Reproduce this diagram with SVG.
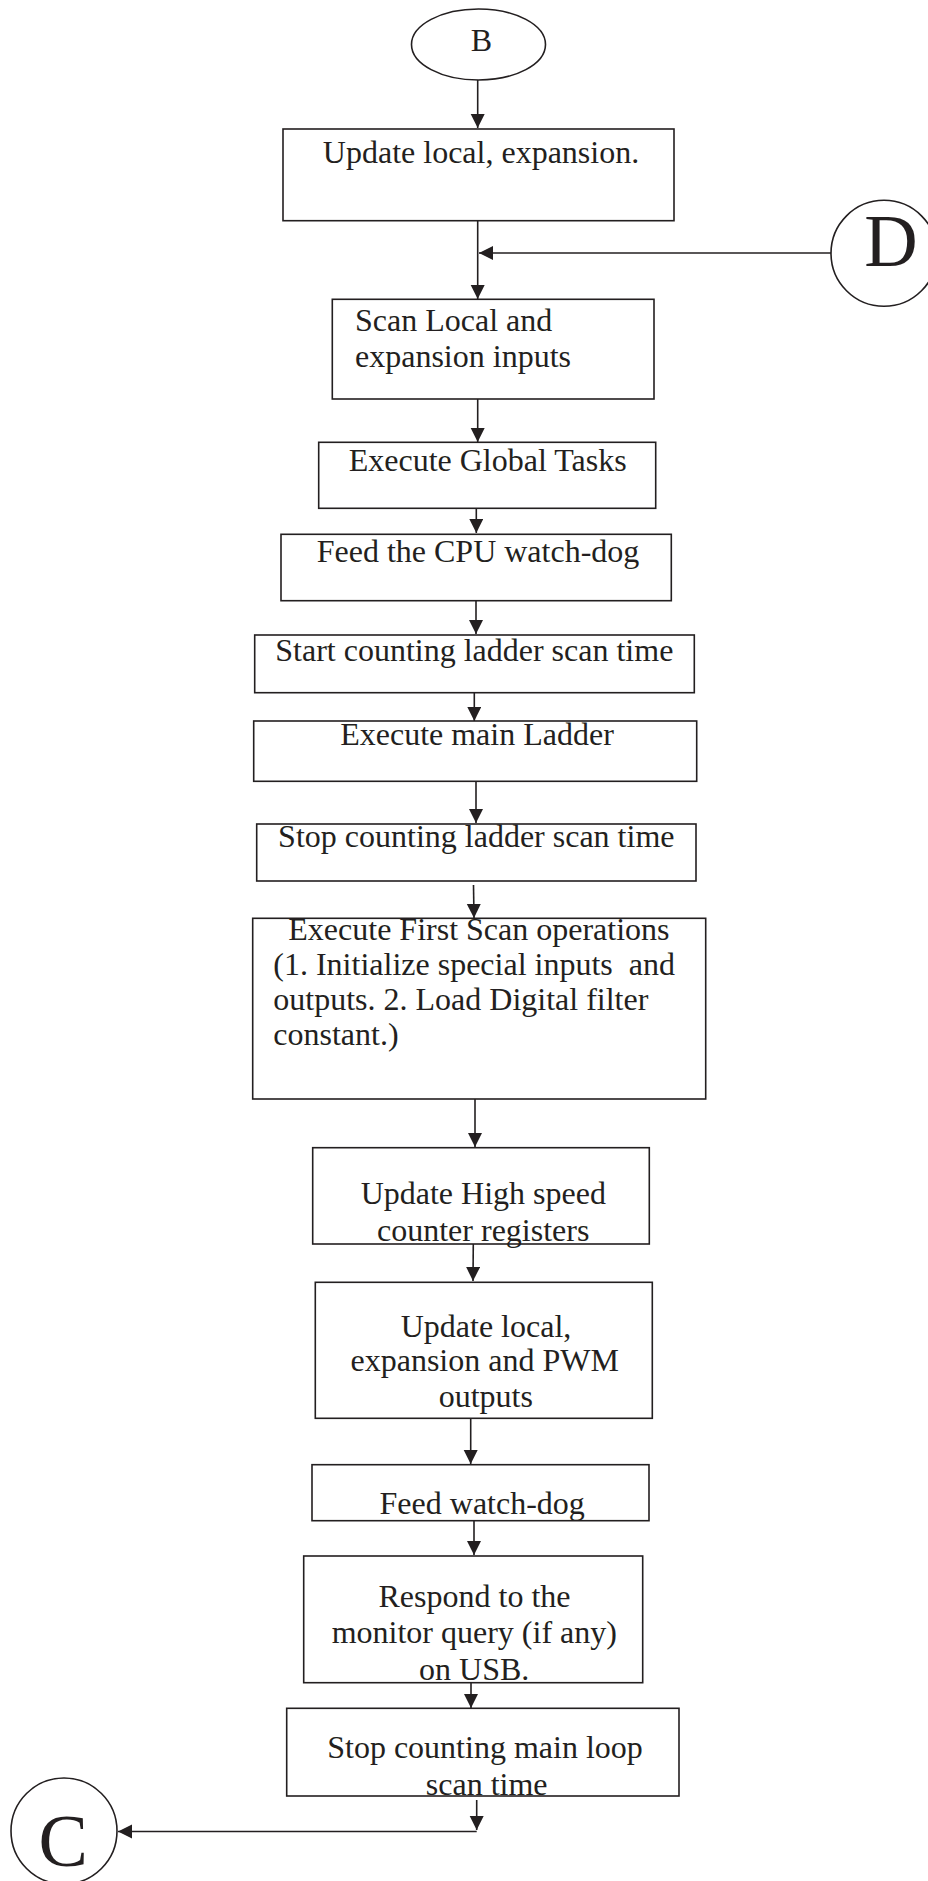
<svg xmlns="http://www.w3.org/2000/svg" width="928" height="1881" viewBox="0 0 928 1881">
<style>
.box{fill:#fff;stroke:#231f20;stroke-width:1.6}
.t{font-family:"Liberation Serif","Times New Roman",serif;font-size:32px;fill:#231f20}
.m{text-anchor:middle}
.big{font-family:"Liberation Serif","Times New Roman",serif;font-size:74px;fill:#231f20;text-anchor:middle}
.c{fill:none;stroke:#231f20;stroke-width:1.6}
</style>
<defs>
<marker id="ah" markerUnits="userSpaceOnUse" markerWidth="16" markerHeight="16" refX="14" refY="7" orient="auto">
<path d="M0,0 L14,7 L0,14 z" fill="#231f20"/>
</marker>
</defs>
<rect width="928" height="1881" fill="#fff"/>
<g id="connectors">
<path class="c" d="M477.7,80 L477.7,128" marker-end="url(#ah)"/>
<path class="c" d="M477.7,221 L477.7,299" marker-end="url(#ah)"/>
<path class="c" d="M831,253 L479,253" marker-end="url(#ah)"/>
<path class="c" d="M477.7,399 L477.7,442" marker-end="url(#ah)"/>
<path class="c" d="M476.3,507 L476.3,533" marker-end="url(#ah)"/>
<path class="c" d="M476,601 L476,634" marker-end="url(#ah)"/>
<path class="c" d="M474.3,693 L474.3,721" marker-end="url(#ah)"/>
<path class="c" d="M476,781 L476,823" marker-end="url(#ah)"/>
<path class="c" d="M473.5,885 L474,918" marker-end="url(#ah)"/>
<path class="c" d="M475,1099 L475,1147" marker-end="url(#ah)"/>
<path class="c" d="M473.3,1242 L473,1281" marker-end="url(#ah)"/>
<path class="c" d="M470.7,1415 L470.7,1464" marker-end="url(#ah)"/>
<path class="c" d="M474,1521 L474,1555" marker-end="url(#ah)"/>
<path class="c" d="M471,1683 L471,1708" marker-end="url(#ah)"/>
<path class="c" d="M476.7,1800 L476.7,1830" marker-end="url(#ah)"/>
<path class="c" d="M476.7,1831.5 L118,1831.5" marker-end="url(#ah)"/>
</g>
<g id="nodeB">
<ellipse cx="478.5" cy="44.5" rx="67" ry="35.5" class="box"/>
<text x="481.5" y="51" class="t m">B</text>
</g>
<g id="nodeD">
<circle cx="884" cy="253.3" r="53" class="box"/>
<text x="891" y="266" class="big">D</text>
</g>
<g id="n1">
<rect x="283" y="129" width="391" height="91.7" class="box"/>
<text x="481" y="162.7" class="t m">Update local, expansion.</text>
</g>
<g id="n2">
<rect x="332.3" y="299.3" width="321.7" height="99.7" class="box"/>
<text x="355" y="330.7" class="t">Scan Local and</text>
<text x="355" y="367.3" class="t">expansion inputs</text>
</g>
<g id="n3">
<rect x="318.7" y="442.3" width="337" height="66" class="box"/>
<text x="487.7" y="470.7" class="t m">Execute Global Tasks</text>
</g>
<g id="n4">
<rect x="281" y="534.3" width="390.3" height="66.4" class="box"/>
<text x="478" y="561.7" class="t m">Feed the CPU watch-dog</text>
</g>
<g id="n5">
<rect x="254.7" y="635" width="439.6" height="57.7" class="box"/>
<text x="474.3" y="661" class="t m">Start counting ladder scan time</text>
</g>
<g id="n6">
<rect x="253.7" y="721" width="443" height="60.3" class="box"/>
<text x="477" y="745" class="t m">Execute main Ladder</text>
</g>
<g id="n7">
<rect x="256.7" y="824" width="439.3" height="57" class="box"/>
<text x="476.3" y="846.7" class="t m">Stop counting ladder scan time</text>
</g>
<g id="n8">
<rect x="252.7" y="918.3" width="453" height="180.7" class="box"/>
<text x="288.3" y="940" class="t">Execute First Scan operations</text>
<text x="273.3" y="975" class="t" xml:space="preserve">(1. Initialize special inputs  and</text>
<text x="273.3" y="1010" class="t">outputs. 2. Load Digital filter</text>
<text x="273.3" y="1045" class="t">constant.)</text>
</g>
<g id="n9">
<rect x="312.7" y="1147.7" width="336.6" height="96.3" class="box"/>
<text x="483.3" y="1204" class="t m">Update High speed</text>
<text x="483.2" y="1241" class="t m">counter registers</text>
</g>
<g id="n10">
<rect x="315.3" y="1282.3" width="337" height="136" class="box"/>
<text x="486" y="1336.7" class="t m">Update local,</text>
<text x="484.7" y="1371" class="t m">expansion and PWM</text>
<text x="485.8" y="1406.7" class="t m">outputs</text>
</g>
<g id="n11">
<rect x="312" y="1464.7" width="337" height="56" class="box"/>
<text x="482.2" y="1514.3" class="t m">Feed watch-dog</text>
</g>
<g id="n12">
<rect x="303.7" y="1556" width="339" height="126.7" class="box"/>
<text x="474.5" y="1606.7" class="t m">Respond to the</text>
<text x="474.3" y="1642.7" class="t m">monitor query (if any)</text>
<text x="474.2" y="1680" class="t m">on USB.</text>
</g>
<g id="n13">
<rect x="286.7" y="1708.3" width="392.3" height="87.7" class="box"/>
<text x="485" y="1758.3" class="t m">Stop counting main loop</text>
<text x="486.7" y="1795" class="t m">scan time</text>
</g>
<g id="nodeC">
<circle cx="64" cy="1831" r="53" class="box"/>
<text x="63.3" y="1866" class="big">C</text>
</g>
</svg>
